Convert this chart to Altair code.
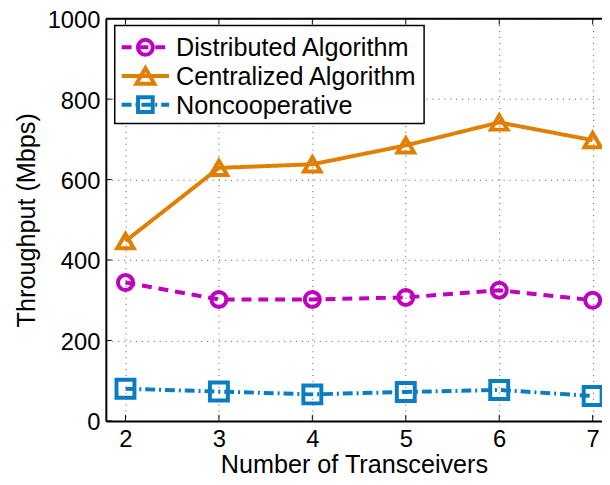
import altair as alt
import pandas as pd

# ---- data ----
n_transceivers = [2, 3, 4, 5, 6, 7]
distributed = [344, 302, 302, 307, 325, 300]
centralized = [447, 629, 638, 685, 742, 698]
noncooperative = [80, 73, 66, 72, 77, 62]

series_names = ["Distributed Algorithm", "Centralized Algorithm", "Noncooperative"]
series_colors = ["#BF00BF", "#E07F00", "#0A7DC2"]
series_shapes = ["circle", "triangle-up", "square"]
series_dashes = [[10, 7], [1, 0], [10, 4, 2, 4]]
series_sizes = [230, 330, 220]

x_ticks = [2, 3, 4, 5, 6, 7]
y_ticks = [0, 200, 400, 600, 800, 1000]

W, H = 502, 407
FONT = "Liberation Sans"
TICK_FS = 24
TEXT_FS = 25.5

rows = []
for name, vals in zip(series_names, [distributed, centralized, noncooperative]):
    for xv, yv in zip(n_transceivers, vals):
        rows.append({"n": xv, "thr": yv, "series": name})
df = pd.DataFrame(rows)

xscale = alt.Scale(domain=[1.79, 7.1], nice=False, zero=False)
yscale = alt.Scale(domain=[0, 1000], nice=False)

color = alt.Color("series:N", scale=alt.Scale(domain=series_names, range=series_colors), legend=None)
dash = alt.StrokeDash("series:N", scale=alt.Scale(domain=series_names, range=series_dashes), legend=None)
shape = alt.Shape("series:N", scale=alt.Scale(domain=series_names, range=series_shapes), legend=None)
size = alt.Size("series:N", scale=alt.Scale(domain=series_names, range=series_sizes), legend=None)

xaxis = alt.Axis(values=x_ticks, title="Number of Transceivers", format="d",
                 grid=True, gridDash=[1, 5], gridColor="#555", gridWidth=1,
                 domainColor="black", domainWidth=2, ticks=False, tickSize=0,
                 labelFontSize=TICK_FS, titleFontSize=TEXT_FS, labelFont=FONT, titleFont=FONT,
                 labelColor="black", titleColor="black", titleFontWeight="normal",
                 labelPadding=7, titlePadding=1)
yaxis = alt.Axis(values=y_ticks, title="Throughput (Mbps)", format="d",
                 grid=True, gridDash=[1, 5], gridColor="#555", gridWidth=1,
                 domainColor="black", domainWidth=2, ticks=False, tickSize=0,
                 labelFontSize=TICK_FS, titleFontSize=TEXT_FS, labelFont=FONT, titleFont=FONT,
                 labelColor="black", titleColor="black", titleFontWeight="normal",
                 labelPadding=6, labelOffset=2, titlePadding=8)

lines = alt.Chart(df).mark_line(strokeWidth=4).encode(
    x=alt.X("n:Q", scale=xscale, axis=xaxis),
    y=alt.Y("thr:Q", scale=yscale, axis=yaxis),
    color=color, strokeDash=dash,
)
points = alt.Chart(df).mark_point(filled=False, strokeWidth=4, opacity=1).encode(
    x=alt.X("n:Q", scale=xscale),
    y=alt.Y("thr:Q", scale=yscale),
    color=color, shape=shape, size=size,
)

# frame: top border and inner ticks
one = pd.DataFrame({"a": [0]})
top_border = alt.Chart(one).mark_rule(color="black", strokeWidth=2).encode(
    x=alt.value(0), x2=alt.value(W + 5), y=alt.value(0))
xt = pd.DataFrame({"n": x_ticks})
yt = pd.DataFrame({"thr": y_ticks})
bottom_ticks = alt.Chart(xt).mark_rule(color="black", strokeWidth=1).encode(
    x=alt.X("n:Q", scale=xscale), y=alt.value(H), y2=alt.value(H - 6))
top_ticks = alt.Chart(xt).mark_rule(color="black", strokeWidth=1).encode(
    x=alt.X("n:Q", scale=xscale), y=alt.value(0), y2=alt.value(6))
left_ticks = alt.Chart(yt).mark_rule(color="black", strokeWidth=1).encode(
    y=alt.Y("thr:Q", scale=yscale), x=alt.value(0), x2=alt.value(6))

# legend box
legend_layers = [
    alt.Chart(one).mark_rect(fill="white", stroke="black", strokeWidth=1.5).encode(
        x=alt.value(9), x2=alt.value(322), y=alt.value(7), y2=alt.value(106))
]
leg_y = [29, 58, 87]
for name, c, sh, d, sz, yy in zip(series_names, series_colors, series_shapes,
                                   series_dashes, series_sizes, leg_y):
    legend_layers.append(alt.Chart(one).mark_rule(color=c, strokeWidth=4, strokeDash=d).encode(
        x=alt.value(16), x2=alt.value(64), y=alt.value(yy)))
    legend_layers.append(alt.Chart(one).mark_point(
        filled=False, color=c, shape=sh, size=sz, strokeWidth=4, opacity=1).encode(
        x=alt.value(40), y=alt.value(yy)))
    legend_layers.append(alt.Chart(one).mark_text(
        align="left", baseline="middle", fontSize=TEXT_FS, font=FONT, color="black").encode(
        x=alt.value(71), y=alt.value(yy + 1), text=alt.value(name)))

chart = alt.layer(
    lines, points, top_border, bottom_ticks, top_ticks, left_ticks, *legend_layers
).properties(
    width=W, height=H,
    autosize=alt.AutoSizeParams(type="none"),
    padding={"left": 99, "top": 8, "right": 0, "bottom": 60},
).configure_view(stroke=None).configure(background="white")

chart.save("out.html", embed_options={"renderer": "svg", "actions": False})
